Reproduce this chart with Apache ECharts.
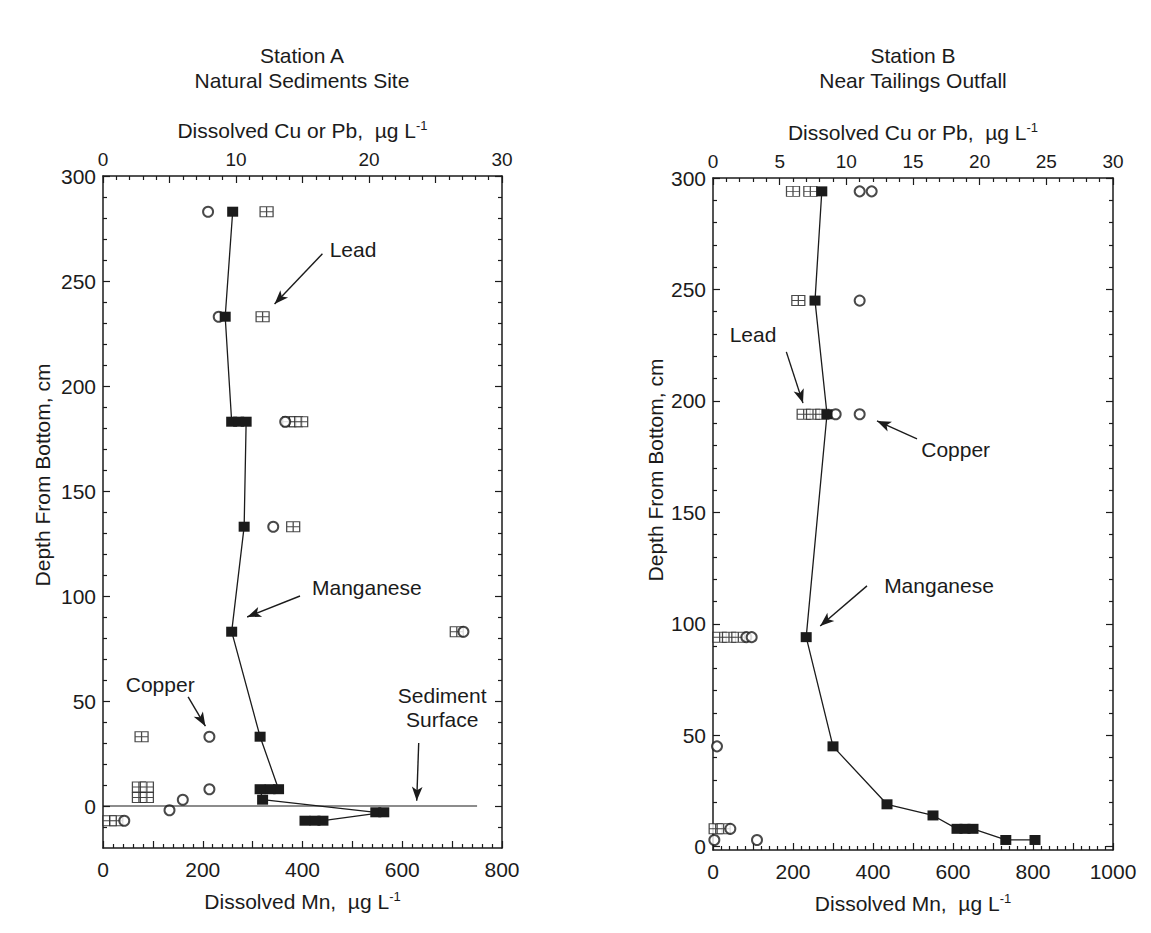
<!DOCTYPE html>
<html>
<head>
<meta charset="utf-8">
<title>Dissolved Mn, Cu and Pb profiles</title>
<script src="https://cdn.jsdelivr.net/npm/echarts@6/dist/echarts.min.js"></script>
<style>
  html, body { margin: 0; padding: 0; background: #fff; }
  #chart { width: 1151px; height: 933px; }
</style>
</head>
<body>
<div id="chart"></div>
<script>
// Station A - natural sediments site (depth in cm, + above bottom)
const mnA_depth = [283, 233, 183, 183, 183, 133, 83, 33, 8, 8, 8, 3, -3, -3, -7, -7, -7];
const mnA_value = [260, 245, 258, 272, 287, 283, 258, 315, 352, 335, 315, 320, 547, 563, 441, 425, 405];
const cuA_depth = [283, 233, 183, 133, 83, 33, 8, 3, -2, -7];
const cuA_value = [7.9, 8.7, 13.7, 12.8, 27.1, 8.0, 8.0, 6.0, 5.0, 1.6];
const pbA_depth = [283, 233, 183, 183, 183, 133, 83, 33, 9, 9, 4, 4, -7, -7];
const pbA_value = [12.3, 12.0, 14.0, 14.5, 14.9, 14.3, 26.6, 2.9, 2.7, 3.3, 2.7, 3.3, 0.5, 1.0];
const surfaceA_depth = [0, 0];
const surfaceA_value = [0, 750];

// Station B - near tailings outfall
const mnB_depth = [294, 245, 194, 94, 45, 19, 14, 8, 8, 8, 3, 3];
const mnB_value = [272, 255, 285, 233, 300, 435, 550, 610, 630, 650, 732, 805];
const cuB_depth = [294, 294, 245, 194, 194, 94, 94, 45, 8, 3, 3];
const cuB_value = [11.0, 11.9, 11.0, 9.2, 11.0, 2.5, 2.9, 0.3, 1.3, 0.1, 3.3];
const pbB_depth = [294, 294, 245, 194, 194, 194, 94, 94, 94, 8, 8];
const pbB_value = [6.0, 7.3, 6.4, 6.8, 7.5, 8.2, 0.5, 1.2, 1.9, 0.2, 0.8];

// tick labels
const depthLabels = [0, 50, 100, 150, 200, 250, 300];

const ink = '#1b1b1b';
const font = '"Liberation Sans", Arial, Helvetica, sans-serif';

// labels with arrows, [x, depth] in the units of the axis they belong to
const notesA = [
  { text: 'Lead', axis: 'cu', at: [18.8, 265], arrow: [[16.5, 263], [12.9, 239]] },
  { text: 'Manganese', axis: 'mn', at: [529, 104], arrow: [[395, 100], [289, 90]] },
  { text: 'Copper', axis: 'cu', at: [4.3, 58], arrow: [[6.4, 52], [7.7, 38]] },
  { text: 'Sediment\nSurface', axis: 'mn', at: [680, 47], arrow: [[633, 30], [629, 2.5]] }
];
const notesB = [
  { text: 'Lead', axis: 'cu', at: [3.0, 230], arrow: [[5.5, 222], [6.75, 199]] },
  { text: 'Copper', axis: 'cu', at: [18.2, 178], arrow: [[15.3, 183], [12.3, 191]] },
  { text: 'Manganese', axis: 'mn', at: [565, 117], arrow: [[385, 117], [268, 99]] }
];

const pts = (xs, ys) => xs.map((x, i) => [x, ys[i]]);
const minorDepth = (from) => {
  const out = [];
  for (let d = from; d < 300; d += 10) if (d % 50 !== 0) out.push(d);
  return out;
};

let myChart = echarts.init(document.getElementById('chart'), null, { renderer: 'svg' });

const lineSt = { color: ink, width: 1.5 };
const tickSt = { color: ink, width: 1.2 };

function mnAxis(grid, max) {
  return {
    type: 'value', gridIndex: grid, position: 'bottom', min: 0, max: max, interval: 100,
    axisLine: { onZero: false, lineStyle: lineSt },
    axisTick: { inside: true, length: 7, lineStyle: tickSt },
    minorTick: { show: true, splitNumber: 5, length: 4, lineStyle: tickSt },
    axisLabel: {
      formatter: v => (v % 200 === 0 ? String(v) : ''),
      margin: 11, fontSize: 21, color: ink, fontFamily: font
    },
    splitLine: { show: false },
    name: 'Dissolved Mn,  µg L{sup|-1}',
    nameLocation: 'middle', nameGap: 42,
    nameTextStyle: {
      fontSize: 21, color: ink, fontFamily: font,
      rich: { sup: { fontSize: 13, padding: [0, 0, 10, 0], fontFamily: font, color: ink } }
    }
  };
}
function cuAxis(grid, interval, labelEvery) {
  return {
    type: 'value', gridIndex: grid, position: 'top', min: 0, max: 30, interval: interval,
    axisLine: { onZero: false, lineStyle: lineSt },
    axisTick: { inside: true, length: 7, lineStyle: tickSt },
    minorTick: { show: true, splitNumber: 5, length: 4, lineStyle: tickSt },
    axisLabel: {
      formatter: v => (v % labelEvery === 0 ? String(v) : ''),
      margin: 7, fontSize: 19, color: ink, fontFamily: font
    },
    splitLine: { show: false },
    name: 'Dissolved Cu or Pb,  µg L{sup|-1}',
    nameLocation: 'middle', nameGap: 34,
    nameTextStyle: {
      fontSize: 21, color: ink, fontFamily: font,
      rich: { sup: { fontSize: 13, padding: [0, 0, 10, 0], fontFamily: font, color: ink } }
    }
  };
}
function depthAxes(grid, min, minorFrom) {
  const base = {
    type: 'value', gridIndex: grid, min: min, max: 300,
    splitLine: { show: false }
  };
  return [
    Object.assign({}, base, {
      position: 'left',
      axisLine: { onZero: false, lineStyle: lineSt },
      axisTick: { inside: true, length: 7, lineStyle: tickSt, customValues: depthLabels },
      axisLabel: { customValues: depthLabels, margin: 7, fontSize: 21, color: ink, fontFamily: font }
    }),
    Object.assign({}, base, {
      position: 'left',
      axisLine: { show: false, onZero: false },
      axisTick: { inside: true, length: 4, lineStyle: tickSt, customValues: minorDepth(minorFrom) },
      axisLabel: { show: false }
    }),
    Object.assign({}, base, {
      position: 'right',
      axisLine: { onZero: false, lineStyle: lineSt },
      axisTick: { inside: true, length: 7, lineStyle: tickSt, customValues: depthLabels },
      axisLabel: { show: false }
    }),
    Object.assign({}, base, {
      position: 'right',
      axisLine: { show: false, onZero: false },
      axisTick: { inside: true, length: 4, lineStyle: tickSt, customValues: minorDepth(minorFrom) },
      axisLabel: { show: false }
    })
  ];
}

function arrows(notes, axis) {
  return {
    silent: true, animation: false,
    symbol: ['none', 'arrow'], symbolSize: [8, 14],
    label: { show: false },
    lineStyle: { color: ink, width: 1.4, type: 'solid' },
    emphasis: { disabled: true },
    data: notes.filter(n => n.axis === axis).map(n => [{ coord: n.arrow[0] }, { coord: n.arrow[1] }])
  };
}

function stationSeries(grid, mnX, cuX, yIdx, mn, cu, pb, notes) {
  return [
    {
      type: 'scatter', xAxisIndex: cuX, yAxisIndex: yIdx, data: pb,
      symbol: 'path://M0,0H12V10H0Z M6,0V10 M0,5H12', symbolSize: [13, 10],
      itemStyle: { color: '#fff', borderColor: ink, borderWidth: 1.1 }
    },
    {
      type: 'scatter', xAxisIndex: cuX, yAxisIndex: yIdx, data: cu,
      symbol: 'emptyCircle', symbolSize: 10,
      itemStyle: { color: ink, borderWidth: 1.3 },
      markLine: arrows(notes, 'cu')
    },
    {
      type: 'line', xAxisIndex: mnX, yAxisIndex: yIdx, data: mn,
      symbol: 'rect', symbolSize: [11, 10], showAllSymbol: true,
      lineStyle: { color: ink, width: 1.3 },
      itemStyle: { color: ink },
      markLine: arrows(notes, 'mn')
    }
  ];
}

let option = {
  backgroundColor: '#fff',
  animation: false,
  grid: [
    { left: 103, top: 176, width: 399, height: 672 },
    { left: 713, top: 178, width: 400, height: 672 }
  ],
  xAxis: [mnAxis(0, 800), cuAxis(0, 5, 10), mnAxis(1, 1000), cuAxis(1, 5, 5)],
  yAxis: depthAxes(0, -20, -10).concat(depthAxes(1, -1.5, 10)),
  series: [].concat(
    stationSeries(0, 0, 1, 0, pts(mnA_value, mnA_depth), pts(cuA_value, cuA_depth), pts(pbA_value, pbA_depth), notesA),
    [{
      type: 'line', xAxisIndex: 0, yAxisIndex: 0, data: pts(surfaceA_value, surfaceA_depth),
      symbol: 'none', lineStyle: { color: ink, width: 1.2 }
    }],
    stationSeries(1, 2, 3, 4, pts(mnB_value, mnB_depth), pts(cuB_value, cuB_depth), pts(pbB_value, pbB_depth), notesB)
  )
};
myChart.setOption(option);

// titles, axis names and annotation labels
const txt = (x, y, text, extra) => Object.assign({
  type: 'text', x: x, y: y, silent: true,
  style: { text: text, fill: ink, font: '21px ' + font, align: 'center', verticalAlign: 'middle', lineHeight: 24 }
}, extra || {});

const graphics = [
  txt(302, 55, 'Station A'),
  txt(302, 80, 'Natural Sediments Site'),
  txt(913, 55, 'Station B'),
  txt(913, 80, 'Near Tailings Outfall'),
  txt(42, 475, 'Depth From Bottom, cm', { rotation: Math.PI / 2 }),
  txt(655, 470, 'Depth From Bottom, cm', { rotation: Math.PI / 2 })
];
function placeNotes(notes, mnX, cuX, yIdx) {
  notes.forEach(n => {
    const p = myChart.convertToPixel({ xAxisIndex: n.axis === 'mn' ? mnX : cuX, yAxisIndex: yIdx }, n.at);
    graphics.push(txt(p[0], p[1], n.text));
  });
}
placeNotes(notesA, 0, 1, 0);
placeNotes(notesB, 2, 3, 4);
myChart.setOption({ graphic: graphics });

window.addEventListener('resize', () => {
  myChart.resize();
}, true);
</script>
</body>
</html>
